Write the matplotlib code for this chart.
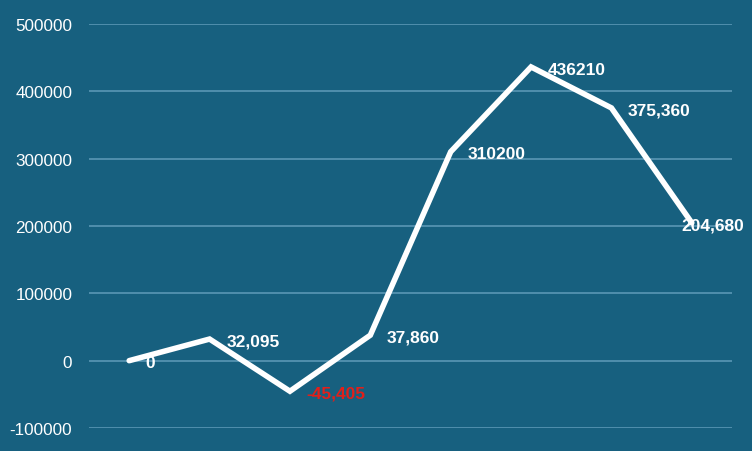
import matplotlib
matplotlib.use("Agg")
import matplotlib.pyplot as plt

categories = ["P1", "P2", "P3", "P4", "P5", "P6", "P7", "P8"]
values = [0, 32095, -45405, 37860, 310200, 436210, 375360, 204680]
label_texts = ["0", "32,095", "-45,405", "37,860", "310200", "436210", "375,360", "204,680"]
label_colors = ["white", "white", "#E0201B", "white", "white", "white", "white", "white"]
label_dx = [12, 12, 12, 12, 12, 12, 12, -7.5]
yticks = [-100000, 0, 100000, 200000, 300000, 400000, 500000]

bg = "#17607F"
grid_c = "#5A97B5"

plt.rcParams['font.family'] = ['Liberation Sans', 'DejaVu Sans']

fig = plt.figure(figsize=(7.52, 4.52), dpi=100, facecolor=bg)
ax = fig.add_axes([89/752, 1-429/452, (732-89)/752, (429-25)/452])
ax.set_facecolor(bg)

x = list(range(len(categories)))
ax.plot(x, values, color="white", linewidth=4, solid_capstyle="round",
        solid_joinstyle="miter", zorder=3)

for xi, v, t, c, dx in zip(x, values, label_texts, label_colors, label_dx):
    ax.annotate(t, (xi, v), xytext=(dx, -1.5), textcoords="offset points",
                ha="left", va="center", color=c, fontsize=12.5,
                fontweight="bold", zorder=4, annotation_clip=False)

ax.set_xlim(-0.5, len(categories) - 0.5)
ax.set_ylim(-100000, 500000)
ax.set_yticks(yticks)
ax.set_yticklabels([str(t) for t in yticks])
ax.set_xticks([])
ax.tick_params(axis="y", length=0, pad=12, labelsize=12.3, labelcolor="white")
ax.grid(axis="y", color=grid_c, linewidth=1.2, zorder=1)
for s in ax.spines.values():
    s.set_visible(False)

fig.savefig("out.png", dpi=100, facecolor=bg)
